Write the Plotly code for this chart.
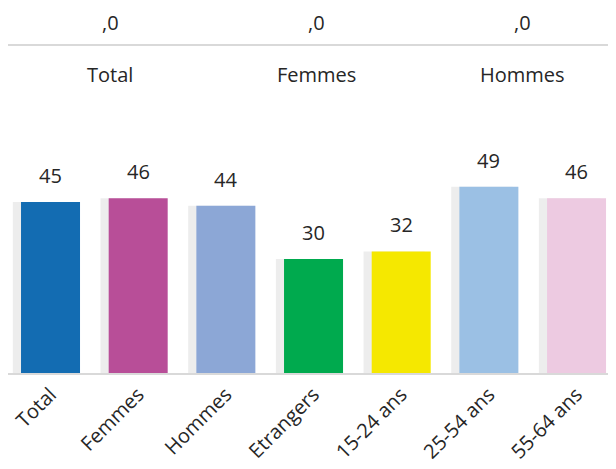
import plotly.graph_objects as go

categories = ["Total", "Femmes", "Hommes", "Etrangers", "15-24 ans", "25-54 ans", "55-64 ans"]
values = [45, 46, 44, 30, 32, 49, 46]
bar_colors = ["#136CB2", "#B84E98", "#8CA7D6", "#00AA4E", "#F5E800", "#9BC0E4", "#EDCAE1"]

header_labels = ["Total", "Femmes", "Hommes"]
header_values = [",0", ",0", ",0"]

FONT = "Open Sans"
TXT = "#262626"

fig = go.Figure()

# soft shadow behind bars
fig.add_trace(go.Bar(
    x=categories, y=values,
    marker=dict(color="rgba(0,0,0,0.07)", line=dict(width=0)),
    width=0.70, offset=-0.43,
    hoverinfo="skip", showlegend=False,
))
fig.add_trace(go.Bar(
    x=categories, y=values,
    marker=dict(color=bar_colors, line=dict(width=0)),
    width=0.673, offset=-0.3365,
    showlegend=False,
))

for c, v in zip(categories, values):
    fig.add_annotation(x=c, y=v, xref="x", yref="y", text=str(v), showarrow=False,
                       yanchor="bottom", yshift=11,
                       font=dict(family=FONT, size=20, color=TXT))

hx = [0.1678, 0.5066, 0.8454]
for x, lab, val in zip(hx, header_labels, header_values):
    fig.add_annotation(x=x, y=1.285, xref="paper", yref="paper", text=val, showarrow=False,
                       xanchor="center", yanchor="middle",
                       font=dict(family=FONT, size=20, color=TXT))
    fig.add_annotation(x=x, y=1.0916, xref="paper", yref="paper", text=lab, showarrow=False,
                       xanchor="center", yanchor="middle",
                       font=dict(family=FONT, size=20, color=TXT))

fig.add_shape(type="line", xref="paper", yref="paper", x0=-0.01, x1=1.02, y0=1.2015, y1=1.2015,
              line=dict(color="#D9D9D9", width=2))

fig.update_layout(
    width=608, height=461,
    margin=dict(l=0, r=0, t=92, b=96, autoexpand=False),
    paper_bgcolor="white", plot_bgcolor="white",
    barmode="overlay",
    xaxis=dict(range=[-0.485, 6.45], showgrid=False, zeroline=False, automargin=False,
               showline=True, linecolor="#D9D9D9", linewidth=2,
               tickangle=-45, ticks="", ticklen=0,
               tickfont=dict(family=FONT, size=20, color=TXT)),
    yaxis=dict(range=[0, 71.84], visible=False, automargin=False),
    font=dict(family=FONT),
)

fig.write_html("out.html")
